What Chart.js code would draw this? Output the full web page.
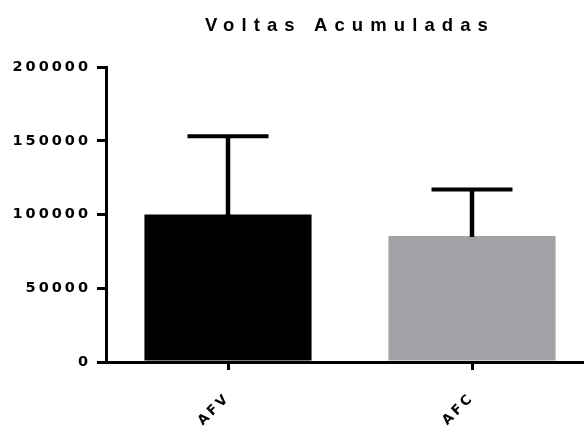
<!DOCTYPE html>
<html>
<head>
<meta charset="utf-8">
<script src="https://cdn.jsdelivr.net/npm/chart.js@4/dist/chart.umd.min.js"></script>
<style>
  html, body { margin: 0; padding: 0; background: #fff; overflow: hidden; }
  .ChartWrapper { width: 594px; height: 428px; }
</style>
</head>
<body>
<div class="ChartWrapper">
  <canvas id="myChart" width="594" height="428"></canvas>
</div>
<script>
const categories = ["AFV", "AFC"];
const values = [100000, 85500];
const errorTop = [153000, 117000];
const barColors = ["#000000", "#a2a1a5"];
const yTicks = [0, 50000, 100000, 150000, 200000];
const titleText = "Voltas Acumuladas";

const FONT = "'Liberation Sans', Arial, sans-serif";
const TICKFONT = "'DejaVu Sans', sans-serif";

// letter spacing has to be set again after every canvas reset
const spacing = {
  id: "spacing",
  beforeUpdate(chart) { chart.ctx.letterSpacing = "3px"; },
  beforeDraw(chart) { chart.ctx.letterSpacing = "3px"; }
};

// error bars (SD, upper only)
const errorBars = {
  id: "errorBars",
  afterDatasetsDraw(chart) {
    const ctx = chart.ctx;
    const y = chart.scales.y;
    const meta = chart.getDatasetMeta(0);
    ctx.save();
    ctx.strokeStyle = "#000";
    ctx.lineCap = "butt";
    meta.data.forEach((bar, i) => {
      const top = y.getPixelForValue(errorTop[i]);
      const base = y.getPixelForValue(values[i]);
      ctx.lineWidth = 4.5;
      ctx.beginPath();
      ctx.moveTo(bar.x, base + 1);
      ctx.lineTo(bar.x, top);
      ctx.stroke();
      ctx.lineWidth = 4;
      ctx.beginPath();
      ctx.moveTo(bar.x - 40.5, top);
      ctx.lineTo(bar.x + 40.5, top);
      ctx.stroke();
    });
    ctx.restore();
  }
};

// title centred over the plot area
const plotTitle = {
  id: "plotTitle",
  afterDraw(chart) {
    const ctx = chart.ctx;
    const a = chart.chartArea;
    ctx.save();
    ctx.letterSpacing = "7.1px";
    ctx.font = "bold 18.5px " + FONT;
    ctx.fillStyle = "#000";
    ctx.textAlign = "center";
    ctx.textBaseline = "alphabetic";
    ctx.fillText(titleText, (a.left + a.right) / 2, 31);
    ctx.restore();
  }
};

new Chart(document.getElementById("myChart").getContext("2d"), {
  type: "bar",
  data: {
    labels: categories,
    datasets: [{
      data: values,
      backgroundColor: barColors,
      borderWidth: 0,
      barPercentage: 0.685,
      categoryPercentage: 1
    }]
  },
  options: {
    responsive: false,
    animation: false,
    devicePixelRatio: 1,
    layout: { padding: { top: 67, left: 0, right: 0, bottom: 0 } },
    plugins: {
      legend: { display: false },
      title: { display: false },
      tooltip: { enabled: false }
    },
    scales: {
      x: {
        z: 1,
        offset: true,
        afterFit(scale) { scale.height = 66; },
        border: { display: true, color: "#000", width: 3 },
        grid: {
          display: true,
          offset: false,
          drawOnChartArea: false,
          drawTicks: true,
          tickLength: 8,
          color: "#000",
          lineWidth: 3
        },
        ticks: {
          color: "#000",
          font: { family: TICKFONT, size: 13.5, weight: "bold" },
          minRotation: 45,
          maxRotation: 45,
          padding: 20
        }
      },
      y: {
        z: 1,
        min: 0,
        max: 200000,
        afterFit(scale) { scale.width = 106; },
        afterBuildTicks(scale) { scale.ticks = yTicks.map(v => ({ value: v })); },
        border: { display: true, color: "#000", width: 3 },
        grid: {
          display: true,
          drawOnChartArea: false,
          drawTicks: true,
          tickLength: 9,
          color: "#000",
          lineWidth: 3
        },
        ticks: {
          color: "#000",
          font: { family: TICKFONT, size: 14.5, weight: "bold" },
          padding: 6,
          callback: v => String(v)
        }
      }
    }
  },
  plugins: [spacing, errorBars, plotTitle]
});
</script>
</body>
</html>
